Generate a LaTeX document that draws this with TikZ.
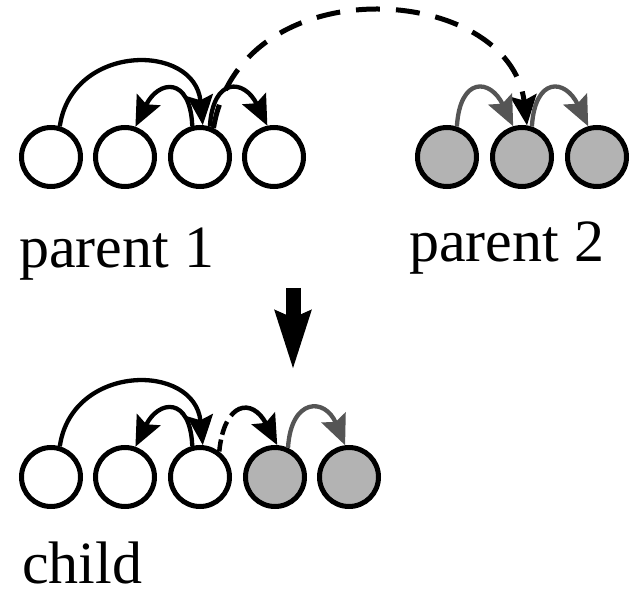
\documentclass[tikz,border=0pt]{standalone}
\usepackage{fontspec}
\setmainfont{Liberation Serif}
\usetikzlibrary{arrows.meta}
\definecolor{genegray}{RGB}{179,179,179}
\definecolor{linkgray}{RGB}{85,85,85}
\begin{document}
\begin{tikzpicture}[x=1pt,y=1pt,
  gene/.style={circle,draw=black,line width=5pt,minimum size=59pt,inner sep=0pt,fill=white},
  genetwo/.style={gene,fill=genegray},
  link/.style={line width=4.3pt,-{Stealth[length=30pt,width=26pt,inset=5pt]}},
  glink/.style={link,draw=linkgray},
  dlink/.style={link,line width=5pt,dash pattern=on 24pt off 16pt},
  shortdash/.style={link,line width=4.5pt,dash pattern=on 12pt off 5pt on 14pt off 7pt on 300pt off 1pt},
  lab/.style={anchor=base west,inner sep=0pt,font=\fontsize{60}{72}\selectfont}
]
\useasboundingbox (0,0) rectangle (640,590);

% parent 1
\node[gene] (a1) at (51,433) {};
\node[gene] (a2) at (125,433) {};
\node[gene] (a3) at (200,433) {};
\node[gene] (a4) at (274,433) {};
% parent 2
\node[genetwo] (b1) at (447,433) {};
\node[genetwo] (b2) at (522,433) {};
\node[genetwo] (b3) at (597,433) {};
% child
\node[gene] (c1) at (51,113) {};
\node[gene] (c2) at (125,113) {};
\node[gene] (c3) at (200,113) {};
\node[genetwo] (c4) at (275,113) {};
\node[genetwo] (c5) at (349,113) {};

% labels
\node[lab] (l1) at (19,322) {parent 1};
\node[lab] (l2) at (409,328) {parent 2};
\node[lab] (l3) at (22,7) {child};

% parent 1 links
\draw[link] (a1.74) .. controls +(12,83) and +(-8,83) .. (a3.85);
\draw[link] (a3.104) .. controls +(-2,50) and +(23,47) .. (a2.71);
\draw[link] (a3.72) .. controls +(3,50) and +(-23,47) .. (a4.102);
% crossover link
\draw[dlink] (a3.65) .. controls +(27,163) and +(-17,143) .. (b2.81);
% parent 2 links
\draw[glink] (b1.72) .. controls +(3,50) and +(-23,48) .. (b2.106);
\draw[glink] (b2.72) .. controls +(3,50) and +(-23,48) .. (b3.106);

% big arrow
\coordinate (arrtop) at (293,302);
\coordinate (arrtip) at (293,220);
\draw[line width=15pt,-{Stealth[length=58pt,width=34pt,inset=6pt]}] (arrtop) -- (arrtip);

% child links
\draw[link] (c1.74) .. controls +(12,83) and +(-8,83) .. (c3.85);
\draw[link] (c3.104) .. controls +(-2,50) and +(23,47) .. (c2.71);
\draw[shortdash] (c3.53) .. controls +(5,50) and +(-25,48) .. (c4.86);
\draw[glink] (c4.66) .. controls +(3,50) and +(-20,48) .. (c5.97);
\end{tikzpicture}
\end{document}
